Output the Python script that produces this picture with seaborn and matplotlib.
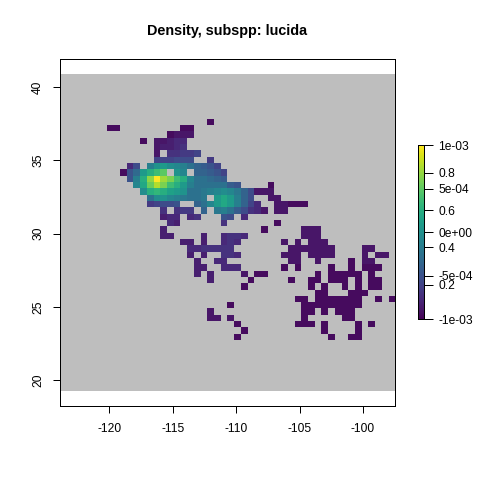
import numpy as np
import matplotlib
matplotlib.use('Agg')
import matplotlib.pyplot as plt
from matplotlib.colors import ListedColormap
import seaborn as sns

title = 'Density, subspp: lucida'
lon_ticks = [-120, -115, -110, -105, -100]
lat_ticks = [20, 25, 30, 35, 40]
density_ticks = [0.2, 0.4, 0.6, 0.8]
second_ticks = [-1e-3, -5e-4, 0, 5e-4, 1e-3]
second_labels = ['-1e-03', '-5e-04', '0e+00', '5e-04', '1e-03']

# grid extent, 50 x 50 cells
lon_range = (-123.93, -97.45)
lat_range = (19.29, 40.86)
lat_view = (18.25, 41.89)
density_range = (0.0128, 0.949)
first_row = 7

code_chars = '0123456789abcdefghijklmnopqrstuvwxyz'
density_rows = [
    '......................1',
    '.......11.........11',
    '................1222',
    '............1.22344',
    '..............23345',
    '..............2.55667',
    '..............777888..6',
    '..........48.fijhgfdba97',
    '.........19cjmoq.ig.bba97',
    '..........9fmtzusomgddcba',
    '...........glrvsomjfddddda9....1',
    '............hmnmkjiddefghgeb8222',
    '.............dhigfedde.jljfb8..22',
    '.............67889..bdgjljfb74..22111',
    '...............5.566.b.efda8542.22',
    '...............344.45...98.4',
    '................43......5.......1',
    '...............3..............1.....222',
    '...............33....3..4554........222',
    '..................33.3..454......2.2.222',
    '...................4455555........2222222....22',
    '...................3.3..554......222.2222....2.22',
    '....................3..44.........22..2....1.22',
    '....................33..444......1.1....1..1.111',
    '....................3.3....2.11.......1.11111.1',
    '......................3.....1.....1..11.111.1.11',
    '...........................1.........1.1..1.1.11',
    '......................................11...111',
    '...................................11.1111111..1.1',
    '.........................1..........111111111',
    '......................2.............11.1.111',
    '......................22.2..........1.....11',
    '..........................1........111.1....1.1',
    '...........................1...........1....1',
    '..........................1.............1..11',
]

grid = np.full((50, 50), np.nan)
for i, row in enumerate(density_rows):
    for j, ch in enumerate(row):
        if ch != '.':
            grid[first_row + i, j] = density_range[0] + code_chars.index(ch) / 35 * (density_range[1] - density_range[0])

dlon = (lon_range[1] - lon_range[0]) / 50
dlat = (lat_range[1] - lat_range[0]) / 50

fig = plt.figure(figsize=(4.8, 4.8), dpi=100)
plt.rcParams['font.family'] = ['Liberation Sans', 'DejaVu Sans']
ax = fig.add_axes([59.5 / 480, (480 - 406) / 480, (395.3 - 59.5) / 480, (406 - 59.3) / 480])

# grey NA layer first, density on top of it
sns.heatmap(np.zeros((50, 50)), ax=ax, cmap=ListedColormap(['#BEBEBE']), cbar=False,
            xticklabels=False, yticklabels=False)
sns.heatmap(grid, ax=ax, cmap='viridis', vmin=density_range[0], vmax=density_range[1], cbar=False,
            xticklabels=False, yticklabels=False)

ax.set_ylim((lat_range[1] - lat_view[0]) / dlat, (lat_range[1] - lat_view[1]) / dlat)
ax.set_xticks([(x - lon_range[0]) / dlon for x in lon_ticks])
ax.set_xticklabels([str(x) for x in lon_ticks], fontsize=8.64, rotation=0)
ax.set_yticks([(lat_range[1] - y) / dlat for y in lat_ticks])
ax.set_yticklabels([str(y) for y in lat_ticks], fontsize=8.64, rotation=90, va='center')
ax.tick_params(axis='both', length=5, width=0.72, color='black')
ax.tick_params(axis='x', pad=7)
ax.tick_params(axis='y', pad=6)
for side in ax.spines.values():
    side.set_visible(True)
    side.set_linewidth(0.72)
    side.set_color('black')

fig.text(227 / 480, 1 - 31 / 480, title, fontsize=10.4, fontweight='bold', ha='center', va='center')

# colour bar with the two sets of labels on the same side
cax = fig.add_axes([418.3 / 480, (480 - 319.3) / 480, 6 / 480, 174 / 480])
cbar = fig.colorbar(ax.collections[-1], cax=cax)
cbar.outline.set_linewidth(0.72)

tax = cax.twinx()
tax.set_ylim(second_ticks[0], second_ticks[-1])
tax.set_yticks(second_ticks)
tax.set_yticklabels(second_labels, fontsize=8.64)
tax.tick_params(length=6.5, width=0.72, pad=3.5)
for side in tax.spines.values():
    side.set_linewidth(0.72)

# twinx moved the density ticks to the left, put them back
cax.yaxis.tick_right()
cax.set_yticks(density_ticks)
cax.set_yticklabels([str(t) for t in density_ticks], fontsize=8.64)
cax.tick_params(length=6.5, width=0.72, pad=3.5)

fig.savefig('out.png', dpi=100)
